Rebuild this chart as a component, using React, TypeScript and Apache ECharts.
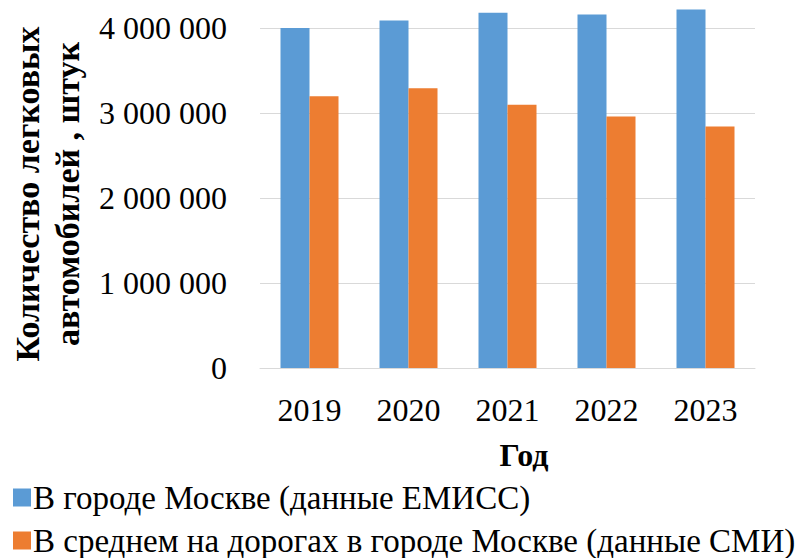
import React, { useEffect, useRef } from "react";
import * as echarts from "echarts";

// Годы наблюдений
const years = ["2019", "2020", "2021", "2022", "2023"];
// Количество легковых автомобилей в Москве (ЕМИСС)
const emissCars = [4000000, 4087000, 4180000, 4158000, 4217000];
// В среднем на дорогах Москвы (СМИ)
const mediaCars = [3196000, 3290000, 3098000, 2960000, 2842000];
// Подписи серий
const seriesNames = [
  "В городе Москве (данные ЕМИСС)",
  "В среднем на дорогах в городе Москве (данные СМИ)",
];
const yTitleLines = ["Количество легковых", "автомобилей , штук"];
const xTitle = "Год";

const FONT = "Liberation Serif";

function formatThousands(v: number): string {
  return String(v).replace(/\B(?=(\d{3})+(?!\d))/g, " ");
}

function legendRow(name: string, top: number) {
  return {
    left: 8,
    top,
    itemWidth: 18,
    itemHeight: 18,
    itemGap: 4,
    icon: "rect",
    textStyle: { fontFamily: FONT, fontSize: 33, color: "#000", padding: [0, 0, 0, -3] },
    data: [name],
  };
}

export default function App() {
  const ref = useRef<HTMLDivElement>(null);

  useEffect(() => {
    if (!ref.current) return;
    const chart = echarts.init(ref.current, undefined, { renderer: "svg" });
    chart.setOption({
      animation: false,
      backgroundColor: "#ffffff",
      textStyle: { fontFamily: FONT, color: "#000" },
      grid: { left: 260, right: 51, top: 28, bottom: 190 },
      legend: [legendRow(seriesNames[0], 476), legendRow(seriesNames[1], 519)],
      xAxis: {
        type: "category",
        data: years,
        axisLine: { lineStyle: { color: "#d9d9d9", width: 1 } },
        axisTick: { show: false },
        axisLabel: { fontFamily: FONT, fontSize: 32, color: "#000", margin: 26 },
      },
      yAxis: {
        type: "value",
        min: 0,
        max: 4000000,
        interval: 1000000,
        axisLine: { show: false },
        axisTick: { show: false },
        splitLine: { lineStyle: { color: "#d9d9d9", width: 1 } },
        axisLabel: {
          fontFamily: FONT,
          fontSize: 32,
          color: "#000",
          margin: 33,
          formatter: (v: number) => formatThousands(v),
        },
      },
      series: [
        {
          name: seriesNames[0],
          type: "bar",
          data: emissCars,
          barWidth: 29,
          barGap: "0%",
          clip: false,
          itemStyle: { color: "#5B9BD5" },
        },
        {
          name: seriesNames[1],
          type: "bar",
          data: mediaCars,
          barWidth: 29,
          barGap: "0%",
          clip: false,
          itemStyle: { color: "#ED7D31" },
        },
      ],
      graphic: [
        {
          type: "text",
          x: 47,
          y: 194,
          rotation: Math.PI / 2,
          style: {
            text: yTitleLines.join("\n"),
            fontFamily: FONT,
            fontWeight: "bold",
            fontSize: 34,
            fill: "#000",
            textAlign: "center",
            textVerticalAlign: "middle",
            lineHeight: 40,
          },
        },
        {
          type: "text",
          x: 524,
          y: 455,
          style: {
            text: xTitle,
            fontFamily: FONT,
            fontWeight: "bold",
            fontSize: 32,
            fill: "#000",
            textAlign: "center",
            textVerticalAlign: "middle",
          },
        },
      ],
    });
    return () => chart.dispose();
  }, []);

  return <div ref={ref} style={{ width: 806, height: 558, position: "absolute", left: 0, top: 0 }} />;
}
